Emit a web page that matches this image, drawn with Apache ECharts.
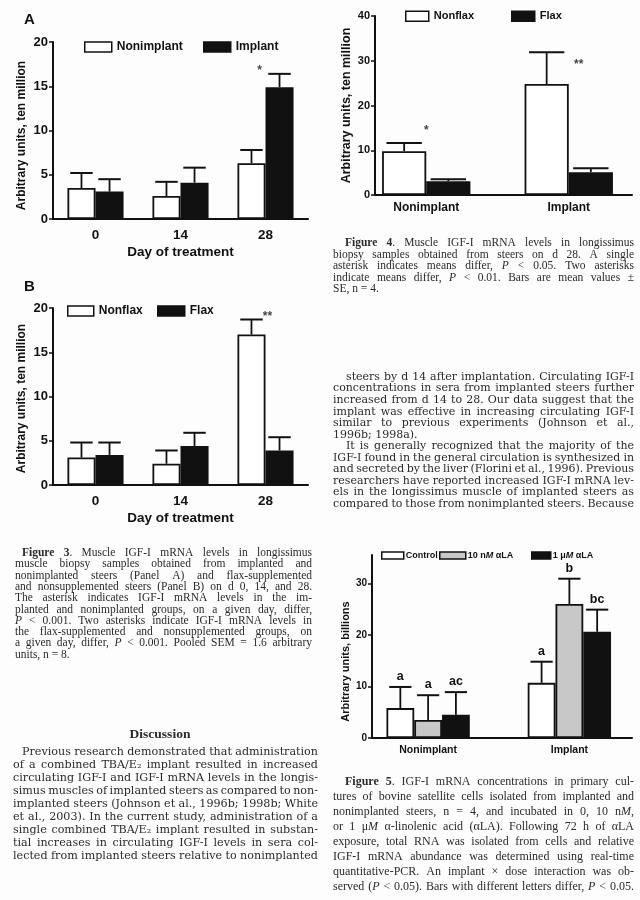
<!DOCTYPE html>
<html><head><meta charset="utf-8">
<script src="https://cdn.jsdelivr.net/npm/echarts@6/dist/echarts.min.js"></script>
<style>html,body{margin:0;padding:0;background:#fdfdfd}#c{width:640px;height:900px}</style>
</head><body><div id="c"></div>
<script>
// ---------------- DATA ----------------
const days = ['0', '14', '28'];
const aNonimplant = [3.5, 2.6, 6.3];
const aNonimplantSE = [1.7, 1.6, 1.5];
const aImplant = [3.1, 4.1, 14.9];
const aImplantSE = [1.4, 1.7, 1.5];
const bNonflax = [3.1, 2.4, 17.0];
const bNonflaxSE = [1.7, 1.5, 1.7];
const bFlax = [3.4, 4.4, 3.9];
const bFlaxSE = [1.4, 1.5, 1.5];
const ticksAB = [0, 5, 10, 15, 20];

const groups4 = ['Nonimplant', 'Implant'];
const f4Nonflax = [9.8, 24.8];
const f4NonflaxSE = [1.8, 7.1];
const f4Flax = [3.1, 5.1];
const f4FlaxSE = [0.4, 0.9];
const ticks4 = [0, 10, 20, 30, 40];

const groups5 = ['Nonimplant', 'Implant'];
const f5Control = [5.8, 10.7];
const f5ControlSE = [4.1, 4.1];
const f5ControlLetters = ['a', 'a'];
const f5Low = [3.5, 26.0];
const f5LowSE = [4.8, 4.9];
const f5LowLetters = ['a', 'b'];
const f5High = [4.5, 20.6];
const f5HighSE = [4.4, 4.3];
const f5HighLetters = ['ac', 'bc'];
const ticks5 = [0, 10, 20, 30];

// significance marks: [category, value read at the mark]
const marksA = [['28', 17.1, '*']];
const marksB = [['28', 19.4, '**']];
const marks4 = [['Nonimplant', 15.0, '*'], ['Implant', 29.7, '**']];

const fig3Caption = [
  '{b|Figure} {b|3}. Muscle IGF-I mRNA levels in longissimus',
  'muscle biopsy samples obtained from implanted and',
  'nonimplanted steers (Panel A) and flax-supplemented',
  'and nonsupplemented steers (Panel B) on d 0, 14, and 28.',
  'The asterisk indicates IGF-I mRNA levels in the im-',
  'planted and nonimplanted groups, on a given day, differ,',
  '{i|P} < 0.001. Two asterisks indicate IGF-I mRNA levels in',
  'the flax-supplemented and nonsupplemented groups, on',
  'a given day, differ, {i|P} < 0.001. Pooled SEM = 1.6 arbitrary',
  'units, n = 8.'
];
const fig4Caption = [
  '{b|Figure} {b|4}. Muscle IGF-I mRNA levels in longissimus',
  'biopsy samples obtained from steers on d 28. A single',
  'asterisk indicates means differ, {i|P} < 0.05. Two asterisks',
  'indicate means differ, {i|P} < 0.01. Bars are mean values ±',
  'SE, n = 4.'
];
const fig5Caption = [
  '{b|Figure} {b|5}. IGF-I mRNA concentrations in primary cul-',
  'tures of bovine satellite cells isolated from implanted and',
  'nonimplanted steers, n = 4, and incubated in 0, 10 n{i|M},',
  'or 1 μ{i|M} α-linolenic acid (αLA). Following 72 h of αLA',
  'exposure, total RNA was isolated from cells and relative',
  'IGF-I mRNA abundance was determined using real-time',
  'quantitative-PCR. An implant × dose interaction was ob-',
  'served ({i|P} < 0.05). Bars with different letters differ, {i|P} < 0.05.'
];
const discussionTitle = 'Discussion';
const discussionLines = [
  'Previous research demonstrated that administration',
  'of a combined TBA/E₂ implant resulted in increased',
  'circulating IGF-I and IGF-I mRNA levels in the longis-',
  'simus muscles of implanted steers as compared to non-',
  'implanted steers (Johnson et al., 1996b; 1998b; White',
  'et al., 2003). In the current study, administration of a',
  'single combined TBA/E₂ implant resulted in substan-',
  'tial increases in circulating IGF-I levels in sera col-',
  'lected from implanted steers relative to nonimplanted'
];
const rightBodyLines = [
  'steers by d 14 after implantation. Circulating IGF-I',
  'concentrations in sera from implanted steers further',
  'increased from d 14 to 28. Our data suggest that the',
  'implant was effective in increasing circulating IGF-I',
  'similar to previous experiments (Johnson et al.,',
  '1996b; 1998a).',
  'It is generally recognized that the majority of the',
  'IGF-I found in the general circulation is synthesized in',
  'and secreted by the liver (Florini et al., 1996). Previous',
  'researchers have reported increased IGF-I mRNA lev-',
  'els in the longissimus muscle of implanted steers as',
  'compared to those from nonimplanted steers. Because'
];

// ---------------- HELPERS ----------------
const AX = '#111';
const SANS = 'Liberation Sans, Arial, sans-serif';
const CAP = 'Liberation Serif, serif';
const BODY = 'DejaVu Serif, serif';
const TXT = '#2a2a2a';

const mctx = document.createElement('canvas').getContext('2d');
function fontStr(o) { return (o.fontStyle || 'normal') + ' ' + (o.fontWeight || 'normal') + ' ' + o.fontSize + 'px ' + o.fontFamily; }
function segs(word) {
  const out = []; const re = /\{(\w)\|([^}]*)\}|([^{]+)/g; let m;
  while ((m = re.exec(word))) { if (m[1]) out.push({k: m[1], t: m[2]}); else out.push({k: null, t: m[3]}); }
  return out;
}
function styleFor(k, base) {
  return {fontFamily: base.fontFamily, fontSize: base.fontSize,
    fontWeight: k === 'b' ? 'bold' : (base.fontWeight || 'normal'), fontStyle: k === 'i' ? 'italic' : 'normal'};
}
function wordWidth(word, base) {
  return segs(word).reduce((s, g) => { mctx.font = fontStr(styleFor(g.k, base)); return s + mctx.measureText(g.t).width; }, 0);
}
function textBlock(lines, o) {
  const ragged = o.ragged || [];
  const ind = i => (i === 0 || (o.indentAt || []).includes(i)) ? o.indent : 0;
  let fs = o.fontSize;
  for (let it = 0; it < 3; it++) {
    let sc = 1;
    lines.forEach((ln, i) => {
      const w = ln.split(' ');
      const tot = w.reduce((s, x) => s + wordWidth(x, {fontFamily: o.fontFamily, fontSize: fs}), 0);
      const avail = o.right - o.left - ind(i);
      const need = tot + (w.length - 1) * fs * 0.22;
      if (need > avail) sc = Math.min(sc, avail / need);
    });
    fs *= sc;
  }
  return lines.map((ln, i) => {
    const base = {fontFamily: o.fontFamily, fontSize: fs};
    const w = ln.split(' ');
    const tot = w.reduce((s, x) => s + wordWidth(x, base), 0);
    const avail = o.right - o.left - ind(i);
    mctx.font = fontStr(base);
    const sp = mctx.measureText(' ').width;
    const gap = (!ragged.includes(i) && w.length > 1) ? (avail - tot) / (w.length - 1) : sp;
    return {
      type: 'text', silent: true,
      style: {
        x: o.left + ind(i), y: o.y0 + i * o.dy,
        text: w.join('{s| }'), fontFamily: o.fontFamily, fontSize: fs, fill: TXT,
        align: 'left', verticalAlign: 'middle',
        rich: {
          s: {width: gap},
          b: {fontFamily: o.fontFamily, fontSize: fs, fontWeight: 'bold', fill: TXT},
          i: {fontFamily: o.fontFamily, fontSize: fs, fontStyle: 'italic', fill: TXT}
        }
      }
    };
  });
}

function barSeries(name, ax, values, color, gap) {
  return {name, type: 'bar', xAxisIndex: ax, yAxisIndex: ax, data: values, barGap: '0%', barCategoryGap: gap,
    itemStyle: {color, borderColor: AX, borderWidth: 1.8}, silent: true, z: 2};
}
function errSeries(ax, means, ses, slot, n, gapRatio, letters) {
  return {
    type: 'custom', xAxisIndex: ax, yAxisIndex: ax, z: 5, silent: true,
    encode: {x: 0, y: [1, 2]},
    data: means.map((m, i) => [i, m, m + ses[i]]),
    renderItem(params, api) {
      const i = api.value(0);
      const p0 = api.coord([i, api.value(1)]);
      const p1 = api.coord([i, api.value(2)]);
      const band = api.size([1, 0])[0];
      const gw = band * (1 - gapRatio);
      const bw = gw / n;
      const x = p0[0] - gw / 2 + bw * (slot + 0.5);
      const hc = bw * 0.4;
      const ch = [
        {type: 'line', shape: {x1: x, y1: p0[1], x2: x, y2: p1[1]}, style: {stroke: AX, lineWidth: 1.8}},
        {type: 'line', shape: {x1: x - hc, y1: p1[1], x2: x + hc, y2: p1[1]}, style: {stroke: AX, lineWidth: 2}}
      ];
      if (letters) ch.push({type: 'text', style: {text: letters[params.dataIndex], x: x, y: p1[1] - 10.5,
        align: 'center', verticalAlign: 'middle', fontFamily: SANS, fontWeight: 'bold', fontSize: 12.5, fill: AX}});
      return {type: 'group', children: ch};
    }
  };
}
function markSeries(ax, marks, offsets) {
  return {
    type: 'scatter', xAxisIndex: ax, yAxisIndex: ax, silent: true, z: 6,
    symbol: 'circle', symbolSize: 1, itemStyle: {color: 'rgba(0,0,0,0)'},
    data: marks.map((m, k) => ({value: [m[0], m[1]], txt: m[2],
      label: {offset: offsets[k]}})),
    label: {show: true, position: 'inside', formatter: p => p.data.txt,
      fontFamily: SANS, fontWeight: 'bold', fontSize: 12, color: AX}
  };
}
function yAx(grid, max, interval, name, nameGap, fs, nfs, pad, extra) {
  return Object.assign({
    gridIndex: grid, type: 'value', min: 0, max, interval,
    axisLine: {show: true, lineStyle: {color: AX, width: 2}},
    axisTick: {show: true, length: 4, lineStyle: {color: AX, width: 1.5}},
    splitLine: {show: false},
    axisLabel: {margin: 5, fontFamily: SANS, fontWeight: 'bold', fontSize: fs, color: AX},
    name, nameLocation: 'middle', nameGap, nameRotate: 90,
    nameTextStyle: {fontFamily: SANS, fontWeight: 'bold', fontSize: nfs, color: AX, padding: pad}
  }, extra || {});
}
function hiddenY(grid, max) { return {gridIndex: grid, type: 'value', min: 0, max, show: false}; }
function catX(grid, data, fs, margin, showLine, name) {
  const o = {gridIndex: grid, type: 'category', data,
    axisLine: {show: showLine, lineStyle: {color: AX, width: 2}}, axisTick: {show: false},
    axisLabel: {margin, fontFamily: SANS, fontWeight: 'bold', fontSize: fs, color: AX}};
  if (name) Object.assign(o, {name, nameLocation: 'middle', nameGap: 26,
    nameTextStyle: {fontFamily: SANS, fontWeight: 'bold', fontSize: 13.5, color: AX}});
  return o;
}
function lineX(grid) {
  return {gridIndex: grid, type: 'value', min: 0, max: 1,
    axisLine: {show: true, onZero: false, lineStyle: {color: AX, width: 2}},
    axisTick: {show: false}, axisLabel: {show: false}, splitLine: {show: false}};
}
function leg(name, left, top, w, h, fs, fill, textPad, formatter) {
  const o = {data: [{name, itemStyle: {color: fill, borderColor: AX, borderWidth: 1.5}}],
    left, top, itemWidth: w, itemHeight: h, padding: 0, icon: 'rect', selectedMode: false,
    textStyle: {fontFamily: SANS, fontWeight: 'bold', fontSize: fs, color: AX, padding: textPad,
      rich: {i: {fontFamily: SANS, fontWeight: 'bold', fontStyle: 'italic', fontSize: fs, color: AX}}}};
  if (formatter) o.formatter = formatter;
  return o;
}

// ---------------- CHART ----------------
const chart = echarts.init(document.getElementById('c'));
const gAB = 0.34, g4 = 0.38, g5 = 0.41;

const graphics = [
  {type: 'text', silent: true, style: {x: 24, y: 20, text: 'A', fontFamily: SANS, fontWeight: 'bold', fontSize: 15, fill: AX, verticalAlign: 'middle'}},
  {type: 'text', silent: true, style: {x: 24, y: 287, text: 'B', fontFamily: SANS, fontWeight: 'bold', fontSize: 15, fill: AX, verticalAlign: 'middle'}},
  {type: 'text', silent: true, style: {x: 160, y: 735, text: discussionTitle, fontFamily: CAP, fontWeight: 'bold', fontSize: 13.5, fill: TXT, align: 'center', verticalAlign: 'middle'}}
].concat(
  textBlock(fig3Caption, {left: 15, right: 312, y0: 553, dy: 11.3, indent: 7, fontFamily: CAP, fontSize: 11.5, ragged: [9]}),
  textBlock(fig4Caption, {left: 333, right: 634, y0: 243, dy: 11.5, indent: 12, fontFamily: CAP, fontSize: 11.5, ragged: [4]}),
  textBlock(fig5Caption, {left: 333, right: 634, y0: 782, dy: 15, indent: 12, fontFamily: CAP, fontSize: 12}),
  textBlock(discussionLines, {left: 13, right: 318, y0: 752, dy: 13, indent: 9, fontFamily: BODY, fontSize: 11.5}),
  textBlock(rightBodyLines, {left: 333, right: 634, y0: 377, dy: 11.55, indent: 13, indentAt: [6], fontFamily: BODY, fontSize: 11, ragged: [5]})
);

const option = {
  backgroundColor: '#fdfdfd',
  animation: false,
  grid: [
    {left: 53, top: 42, width: 255, height: 177},
    {left: 53, top: 308, width: 255, height: 177},
    {left: 375, top: 16, width: 257, height: 179},
    {left: 355, top: 16, width: 297, height: 179},
    {left: 372, top: 555, width: 260, height: 183},
    {left: 357.5, top: 555, width: 288, height: 183}
  ],
  xAxis: [
    catX(0, days, 13.5, 9, true, 'Day of treatment'),
    catX(1, days, 13.5, 9, true, 'Day of treatment'),
    lineX(2),
    catX(3, groups4, 12, 7, false),
    lineX(4),
    catX(5, groups5, 10.5, 6.5, false)
  ],
  yAxis: [
    yAx(0, 20, 5, 'Arbitrary units, ten million', 25, 13, 12, [0, 10, 0, 0]),
    yAx(1, 20, 5, 'Arbitrary units, ten million', 25, 13, 12, [0, 4, 0, 0]),
    yAx(2, 40, 10, 'Arbitrary units, ten million', 22, 11, 12.5, [0, 0, 0, 0]),
    hiddenY(3, 40),
    yAx(4, 35.5, 10, 'Arbitrary units, billions', 21, 10, 11, [0, 30, 0, 0], {
      axisTick: {show: true, length: 4, customValues: ticks5, lineStyle: {color: AX, width: 1.5}},
      axisLabel: {margin: 5, customValues: ticks5, formatter: v => (ticks5.includes(v) ? String(v) : ''),
        fontFamily: SANS, fontWeight: 'bold', fontSize: 10, color: AX}
    }),
    hiddenY(5, 35.5)
  ],
  legend: [
    leg('Nonimplant', 84, 41, 27, 10, 12, '#fff', 0),
    leg('Implant', 203, 41, 27, 10, 12, '#111', 0),
    leg('Nonflax', 67, 305, 26, 10, 12, '#fff', 0),
    leg('Flax', 157, 305, 27, 10, 12, '#111', 0),
    leg('Nonflax', 405, 10.5, 23, 10, 11, '#fff', 0),
    leg('Flax', 511, 10.5, 23, 10, 11, '#111', 0),
    leg('Control', 381, 551, 22, 7, 9, '#fff', [0, 0, 0, -3]),
    leg('10 nM αLA', 439, 551, 26, 7, 9, '#c8c8c8', [0, 0, 0, -3], () => '10 n{i|M} αLA'),
    leg('1 μM αLA', 531, 551, 19, 7, 9, '#111', [0, 0, 0, -3], () => '1 μ{i|M} αLA')
  ],
  graphic: graphics,
  series: [
    barSeries('Nonimplant', 0, aNonimplant, '#fff', '34%'),
    barSeries('Implant', 0, aImplant, '#111', '34%'),
    errSeries(0, aNonimplant, aNonimplantSE, 0, 2, gAB),
    errSeries(0, aImplant, aImplantSE, 1, 2, gAB),
    markSeries(0, marksA, [[-6, 3]]),

    barSeries('Nonflax', 1, bNonflax, '#fff', '34%'),
    barSeries('Flax', 1, bFlax, '#111', '34%'),
    errSeries(1, bNonflax, bNonflaxSE, 0, 2, gAB),
    errSeries(1, bFlax, bFlaxSE, 1, 2, gAB),
    markSeries(1, marksB, [[2, 3]]),

    barSeries('Nonflax', 3, f4Nonflax, '#fff', '38%'),
    barSeries('Flax', 3, f4Flax, '#111', '38%'),
    errSeries(3, f4Nonflax, f4NonflaxSE, 0, 2, g4),
    errSeries(3, f4Flax, f4FlaxSE, 1, 2, g4),
    markSeries(3, marks4, [[0, 3], [10, 3]]),

    barSeries('Control', 5, f5Control, '#fff', '41%'),
    barSeries('10 nM αLA', 5, f5Low, '#c8c8c8', '41%'),
    barSeries('1 μM αLA', 5, f5High, '#111', '41%'),
    errSeries(5, f5Control, f5ControlSE, 0, 3, g5, f5ControlLetters),
    errSeries(5, f5Low, f5LowSE, 1, 3, g5, f5LowLetters),
    errSeries(5, f5High, f5HighSE, 2, 3, g5, f5HighLetters)
  ]
};
chart.setOption(option);
</script>
</body></html>
